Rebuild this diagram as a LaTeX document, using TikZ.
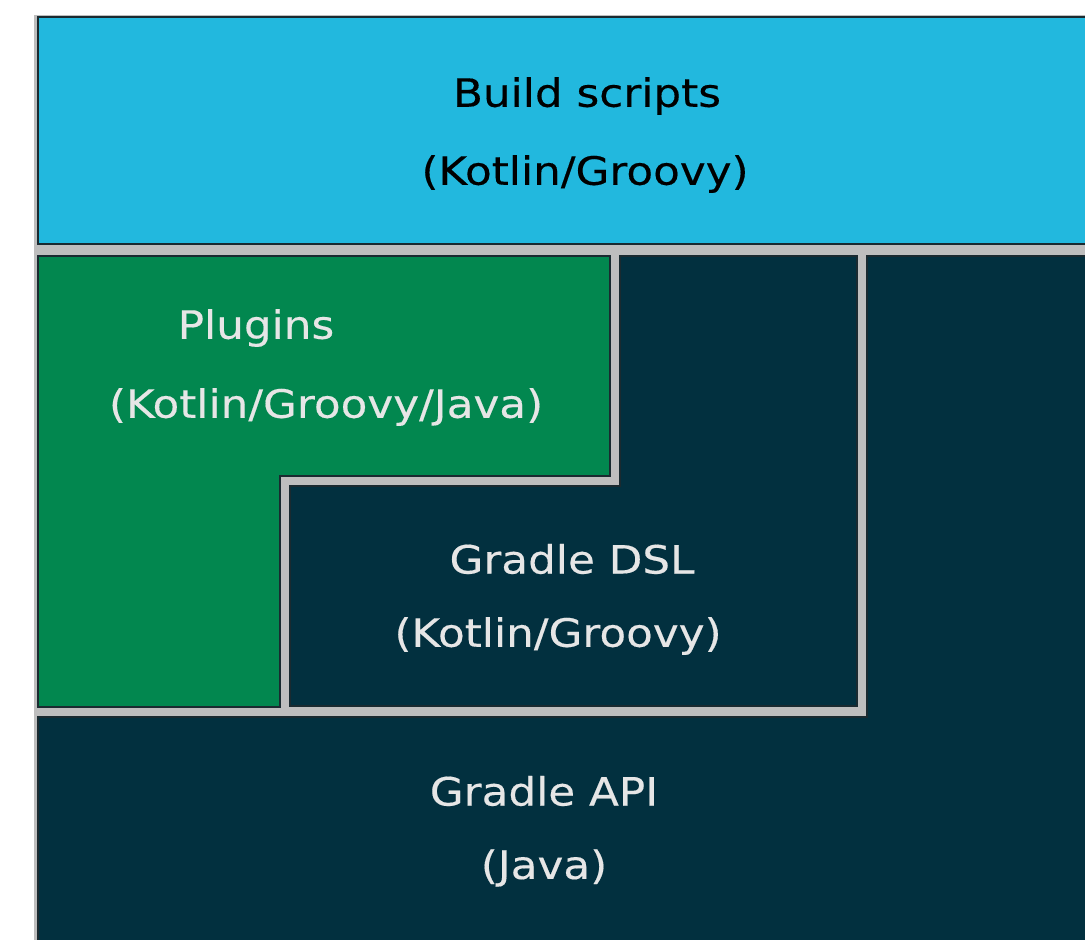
\documentclass[tikz,border=0pt]{standalone}
\usepackage{fontspec}
\newfontfamily\lab[FakeStretch=1.12,FakeBold=0.35]{DejaVu Sans}
\definecolor{cyanbox}{HTML}{22B8DE}
\definecolor{greenbox}{HTML}{02874F}
\definecolor{navybox}{HTML}{02303F}
\definecolor{gapgray}{HTML}{BEBEBE}
\definecolor{edge}{HTML}{1A2A30}
\definecolor{lighttext}{HTML}{E6E6E6}
\tikzset{
  block/.style={draw=edge, line width=1.6pt, line join=miter},
  darktxt/.style={font=\lab\fontsize{39}{47}\selectfont, text=black, inner sep=0pt},
  lighttxt/.style={font=\lab\fontsize{39}{47}\selectfont, text=lighttext, inner sep=0pt}
}
\begin{document}
\begin{tikzpicture}[x=1pt,y=-1pt]
\useasboundingbox (0,0) rectangle (1085,940);
\begin{scope}
\clip (0,0) rectangle (1085,940);
\fill[white] (0,0) rectangle (1085,940);
\fill[gapgray] (34,15) rectangle (1100,960);
% Build scripts
\filldraw[block, fill=cyanbox] (38,17) rectangle (1100,244);
% Plugins (L shape)
\filldraw[block, fill=greenbox] (38,256) -- (610,256) -- (610,476) -- (280,476) -- (280,707) -- (38,707) -- cycle;
% Gradle DSL (L shape)
\filldraw[block, fill=navybox] (620,256) -- (857,256) -- (857,706) -- (290,706) -- (290,486) -- (620,486) -- cycle;
% Gradle API (L shape)
\filldraw[block, fill=navybox] (867,256) -- (1100,256) -- (1100,960) -- (38,960) -- (38,717) -- (867,717) -- cycle;
\end{scope}
\node[darktxt] (bs1) at (587,96) {Build scripts};
\node[darktxt] (bs2) at (585,174) {(Kotlin/Groovy)};
\node[lighttxt] (pl1) at (256,328) {Plugins};
\node[lighttxt] (pl2) at (326,407) {(Kotlin/Groovy/Java)};
\node[lighttxt] (dsl1) at (572,559) {Gradle DSL};
\node[lighttxt] (dsl2) at (558,636) {(Kotlin/Groovy)};
\node[lighttxt] (api1) at (544,791) {Gradle API};
\node[lighttxt] (api2) at (544,868) {(Java)};
\end{tikzpicture}
\end{document}
